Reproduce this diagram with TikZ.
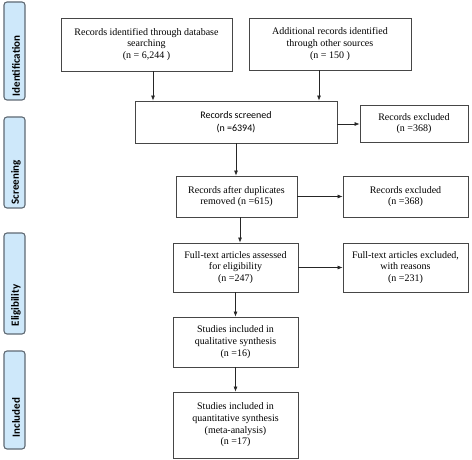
\documentclass[tikz,border=0pt]{standalone}
\usepackage{fontspec}
\setmainfont{Liberation Serif}
\newfontfamily\barfont{Carlito}
\usetikzlibrary{arrows.meta,calc}
\definecolor{boxline}{RGB}{70,70,70}
\definecolor{barfill}{RGB}{206,232,250}
\definecolor{barline}{RGB}{95,105,115}
\tikzset{
  box/.style={draw=boxline,line width=0.8pt,fill=white,align=center,inner sep=1pt,
    font=\fontsize{10}{11.7}\selectfont},
  bar/.style={draw=barline,line width=1.1pt,fill=barfill,rounded corners=3pt,minimum width=21pt,inner sep=0pt},
  barlabel/.style={rotate=90,anchor=west,font=\barfont\bfseries\fontsize{11}{13}\selectfont,inner sep=0pt},
  arr/.style={draw=black!85,line width=0.7pt,-{Latex[length=5pt,width=4pt]}}
}
\begin{document}
\begin{tikzpicture}[x=1pt,y=-1pt]
\useasboundingbox (0,0) rectangle (472,460);
% side bars
\node[bar,minimum height=98pt] (idb) at (14.5,51) {};
\node[bar,minimum height=91pt] (scb) at (14.5,162.5) {};
\node[bar,minimum height=101pt] (elb) at (14.5,283.5) {};
\node[bar,minimum height=98pt] (inb) at (14.5,400) {};
\node[barlabel] (idl) at ($(idb.south)+(1.5,-4)$) {Identification};
\node[barlabel] (scl) at ($(scb.south)+(1.5,-4)$) {Screening};
\node[barlabel] (ell) at ($(elb.south)+(1.5,-8)$) {Eligibility};
\node[barlabel] (inl) at ($(inb.south)+(1.5,-12)$) {Included};
% boxes
\node[box,minimum width=171pt,minimum height=53pt] (b1) at (146.5,44.5) {Records identified through database\\searching\\(n = 6,244 )};
\node[box,minimum width=162pt,minimum height=52pt] (b2) at (330,44) {Additional records identified\\through other sources\\(n = 150 )};
\node[box,minimum width=202pt,minimum height=42pt,font=\barfont\fontsize{10}{12.5}\selectfont] (scr) at (236,122) {Records screened\\(n =6394)};
\node[box,minimum width=108pt,minimum height=37pt] (ex1) at (414,123.5) {Records excluded\\(n =368)};
\node[box,minimum width=121pt,minimum height=41pt] (dup) at (236.5,196.5) {Records after duplicates\\removed (n =615)};
\node[box,minimum width=125pt,minimum height=41pt] (ex2) at (405.5,196.5) {Records excluded\\(n =368)};
\node[box,minimum width=125pt,minimum height=49pt] (ft) at (235.5,267.5) {Full-text articles assessed\\for eligibility\\(n =247)};
\node[box,minimum width=125pt,minimum height=49pt] (ftx) at (405.5,267.5) {Full-text articles excluded,\\with reasons\\(n =231)};
\node[box,minimum width=125pt,minimum height=50pt] (qual) at (235.5,342) {Studies included in\\qualitative synthesis\\(n =16)};
\node[box,minimum width=125pt,minimum height=66pt] (quan) at (235.5,425) {Studies included in\\quantitative synthesis\\(meta-analysis)\\(n =17)};
% connectors
\draw[arr] ([xshift=6.5pt]b1.south) -- ([xshift=6.5pt]b1.south |- scr.north);
\draw[arr] ([xshift=-11pt]b2.south) -- ([xshift=-11pt]b2.south |- scr.north);
\draw[arr] ([yshift=-2pt]scr.east) -- ([yshift=-2pt]scr.east -| ex1.west);
\draw[arr] (scr.south) -- (scr.south |- dup.north);
\draw[arr] (dup.east) -- (ex2.west);
\draw[arr] ([xshift=3.5pt]dup.south) -- ([xshift=3.5pt]dup.south |- ft.north);
\draw[arr] (ft.east) -- (ftx.west);
\draw[arr] (ft.south) -- (qual.north);
\draw[arr] (qual.south) -- (quan.north);
\end{tikzpicture}
\end{document}
